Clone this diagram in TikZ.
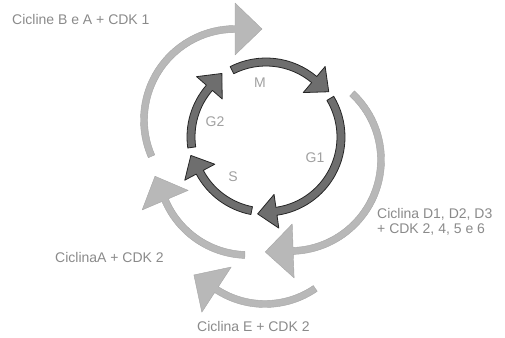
\documentclass[tikz,border=0pt]{standalone}
\usepackage{fontspec}
\setmainfont{Liberation Sans}
\usetikzlibrary{calc}
\definecolor{innerfill}{HTML}{6E6E6E}
\definecolor{outerfill}{HTML}{B8B8B8}
\definecolor{labelgray}{HTML}{8A8A8A}
\definecolor{phasegray}{HTML}{A0A0A0}
% #1,#2 centre; #3 radius; #4 start angle; #5 base angle; #6 half shaft; #7 half head; #8 head length; #9 style
\newcommand\cwarrow[9]{%
  \begin{scope}[shift={(#1,#2)}]
    \path[#9] ({#4}:{#3+#6}) arc[start angle={#4}, end angle={#5}, radius={#3+#6}]
      -- ({#5}:{#3+#7}) -- ($({#5}:{#3})+({#5-90}:{#8})$) -- ({#5}:{#3-#7})
      -- ({#5}:{#3-#6}) arc[start angle={#5}, end angle={#4}, radius={#3-#6}] -- cycle;
  \end{scope}}
\tikzset{
  innerarrow/.style={fill=innerfill, draw=black!85, line width=0.8pt, line join=round},
  outerarrow/.style={fill=outerfill, draw=outerfill!90!black, line width=0.4pt, line join=round},
  lbl/.style={text=labelgray, font=\fontsize{14}{15}\selectfont, inner sep=0pt},
  phase/.style={text=phasegray, font=\fontsize{14}{15}\selectfont, inner sep=0pt}
}
\begin{document}
\begin{tikzpicture}[x=1pt,y=1pt]
\useasboundingbox (0,0) rectangle (505,337);
% outer arrows
\cwarrow{235}{217}{91}{203.5}{90}{3.5}{26}{27}{outerarrow}
\cwarrow{290}{177}{91}{47}{-88}{3.5}{27}{28}{outerarrow}
\cwarrow{248}{172}{90}{268}{203}{3.5}{25}{26}{outerarrow}
\cwarrow{265}{122}{89}{-55.6}{-123}{3.5}{27}{27}{outerarrow}
% inner cycle
\cwarrow{266}{200}{75}{117}{50}{4}{17}{19}{innerarrow}
\cwarrow{266}{200}{75}{31}{-82}{4}{17}{19}{innerarrow}
\cwarrow{266}{200}{75}{-101}{-152}{4}{17}{19}{innerarrow}
\cwarrow{266}{200}{75}{188}{139}{4}{17}{19}{innerarrow}
% phase labels
\node[phase] (m) at (260,254) {M};
\node[phase] (g2) at (215,215) {G2};
\node[phase] (g1) at (315,179) {G1};
\node[phase] (s) at (233,160) {S};
% cyclin labels
\node[lbl, anchor=west] (cb) at (12,317) {Cicline B e A + CDK 1};
\node[lbl, anchor=west, align=left] (cd) at (377,115.5) {Ciclina D1, D2, D3\\+ CDK 2, 4, 5 e 6};
\node[lbl, anchor=west] (ca) at (55,80) {CiclinaA + CDK 2};
\node[lbl, anchor=west] (ce) at (197,11) {Ciclina E + CDK 2};
\end{tikzpicture}
\end{document}
